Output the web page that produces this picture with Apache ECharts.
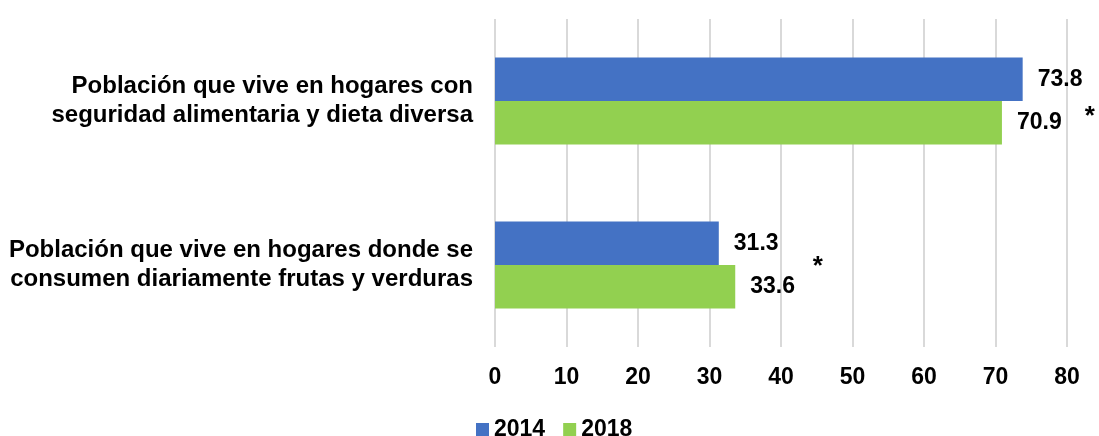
<!DOCTYPE html>
<html>
<head>
<meta charset="utf-8">
<script src="https://cdn.jsdelivr.net/npm/echarts@6/dist/echarts.min.js"></script>
<style>
  html, body { margin: 0; padding: 0; background: #fff; }
  #chart { width: 1099px; height: 436px; }
</style>
</head>
<body>
<div id="chart"></div>
<script>
// datos
const categories = [
  'Población que vive en hogares con\nseguridad alimentaria y dieta diversa',
  'Población que vive en hogares donde se\nconsumen diariamente frutas y verduras'
];
const years = ['2014', '2018'];
const values2014 = [73.8, 31.3];
const values2018 = [70.9, 33.6];
const xTicks = [0, 10, 20, 30, 40, 50, 60, 70, 80];
// asteriscos de diferencia significativa: [valor x, categoria]
const stars = [[83.2, 0], [45.15, 1]];

const FONT = 'Liberation Sans, Arial, sans-serif';
const colors = ['#4472C4', '#92D050'];

const valueLabel = {
  show: true,
  position: 'right',
  distance: 15,
  fontFamily: FONT,
  fontWeight: 'bold',
  fontSize: 23,
  color: '#000',
  formatter: p => p.value.toFixed(1)
};

const chart = echarts.init(document.getElementById('chart'));

const option = {
  animation: false,
  color: colors,
  grid: { left: 495, right: 32, top: 19, bottom: 89, containLabel: false },
  legend: {
    top: 413,
    left: 471,
    padding: 5,
    itemWidth: 13,
    itemHeight: 13,
    itemGap: 18,
    icon: 'rect',
    textStyle: { fontFamily: FONT, fontWeight: 'bold', fontSize: 23, color: '#000' },
    data: years
  },
  xAxis: {
    type: 'value',
    min: xTicks[0],
    max: xTicks[xTicks.length - 1],
    interval: 10,
    axisLine: { show: false },
    axisTick: { show: false },
    splitLine: { lineStyle: { color: '#d9d9d9', width: 2 } },
    axisLabel: { margin: 19, fontFamily: FONT, fontWeight: 'bold', fontSize: 23, color: '#000' }
  },
  yAxis: {
    type: 'category',
    inverse: true,
    data: categories,
    axisLine: { show: false },
    axisTick: { show: false },
    axisLabel: {
      margin: 22,
      fontFamily: FONT,
      fontWeight: 'bold',
      fontSize: 24,
      lineHeight: 29,
      color: '#000',
      align: 'right'
    }
  },
  series: [
    {
      name: years[0],
      type: 'bar',
      data: values2014,
      barGap: '0%',
      barCategoryGap: '47%',
      label: valueLabel
    },
    {
      name: years[1],
      type: 'bar',
      data: values2018,
      barGap: '0%',
      barCategoryGap: '47%',
      label: valueLabel
    }
  ]
};

chart.setOption(option);

// asteriscos como texto, colocados con las escalas del grafico
const starOffsets = [16, 2];
chart.setOption({
  graphic: stars.map((s, i) => {
    const pt = chart.convertToPixel({ gridIndex: 0 }, [s[0], s[1]]);
    return {
      type: 'text',
      x: pt[0],
      y: pt[1] + starOffsets[i],
      style: {
        text: '*',
        fontFamily: FONT,
        fontWeight: 'bold',
        fontSize: 26,
        fill: '#000',
        align: 'center',
        verticalAlign: 'middle'
      }
    };
  })
});
</script>
</body>
</html>
